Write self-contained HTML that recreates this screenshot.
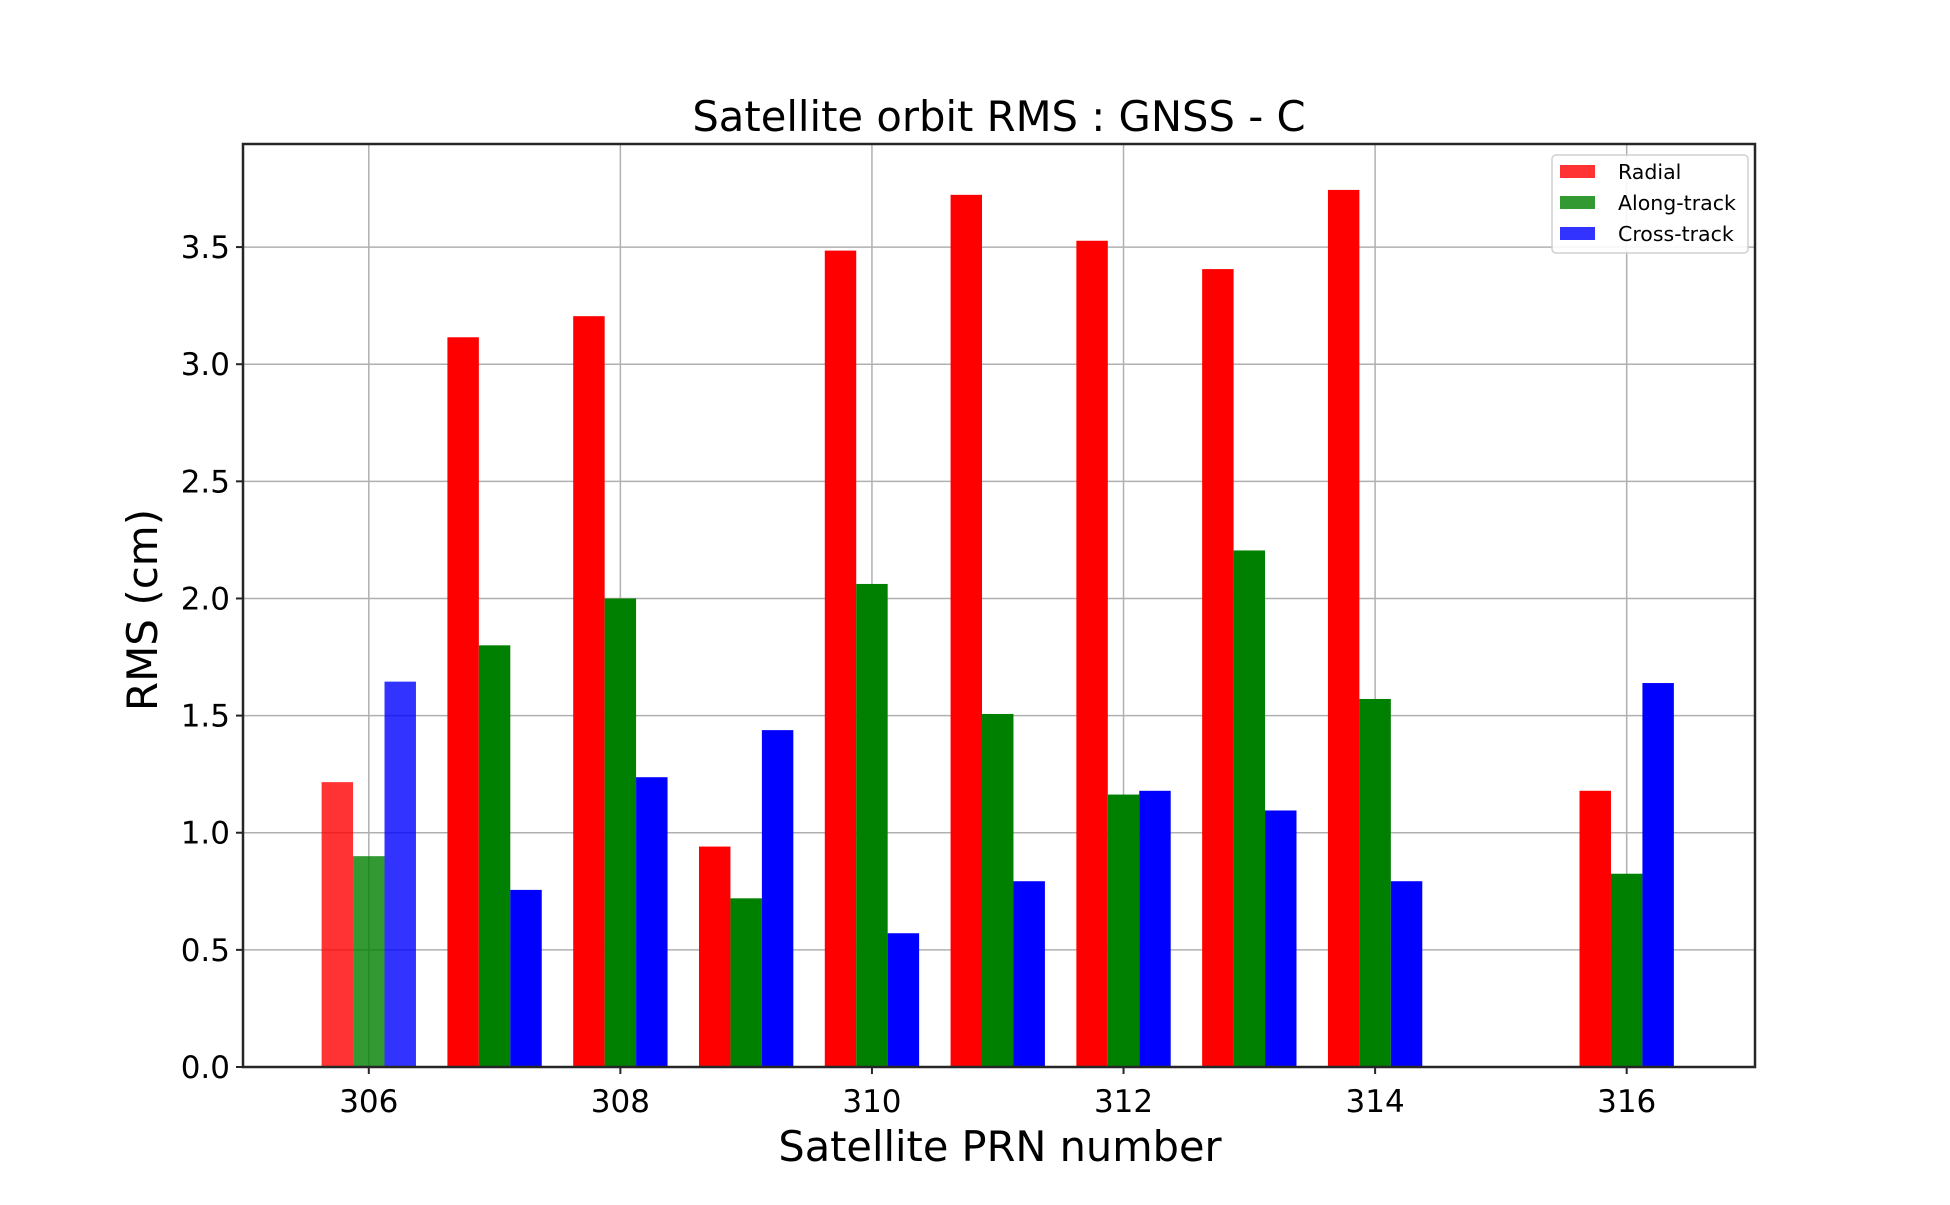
<!DOCTYPE html>
<html><head><meta charset="utf-8"><style>
body{margin:0;background:#fff}
svg text{font-family:"DejaVu Sans","Liberation Sans",sans-serif;fill:#000}
</style></head><body>
<svg id="chart" width="1950" height="1200" xmlns="http://www.w3.org/2000/svg"></svg>
<script>
const categories=[306,307,308,309,310,311,312,313,314,316];
const radial=[1.216,3.115,3.205,0.941,3.485,3.723,3.527,3.406,3.744,1.179];
const along=[0.90,1.80,2.0,0.72,2.062,1.507,1.163,2.205,1.571,0.825];
const cross=[1.645,0.756,1.237,1.438,0.571,0.793,1.179,1.095,0.793,1.639];
const yTicks=[0,0.5,1,1.5,2,2.5,3,3.5];
const xTicks=[306,308,310,312,314,316];
const L=243,R=1755,T=144,B=1067;
const xmin=305.0,xmax=317.02,ymin=0,ymax=3.94;
const xs=v=>L+(v-xmin)/(xmax-xmin)*(R-L);
const ys=v=>B-(v-ymin)/(ymax-ymin)*(B-T);
const svg=document.getElementById('chart');
const NS='http://www.w3.org/2000/svg';
function mk(tag,attrs,parent){const e=document.createElementNS(NS,tag);for(const k in attrs)e.setAttribute(k,attrs[k]);(parent||svg).appendChild(e);return e;}
xTicks.forEach(t=>{const l=mk('line',{x1:xs(t),x2:xs(t),y1:T,y2:B,stroke:'#b0b0b0','stroke-width':1.5});

});
yTicks.forEach(t=>{const l=mk('line',{x1:L,x2:R,y1:ys(t),y2:ys(t),stroke:'#b0b0b0','stroke-width':1.5});

});
const series=[{d:radial,c:'#ff0000',off:-0.25,n:'radial'},{d:along,c:'#008000',off:0,n:'along-track'},{d:cross,c:'#0000ff',off:0.25,n:'cross-track'}];
const w=0.25;
series.forEach(s=>{categories.forEach((c,i)=>{
const x0=xs(c+s.off-w/2),x1=xs(c+s.off+w/2);
const r=mk('rect',{x:x0,y:ys(s.d[i]),width:x1-x0,height:ys(0)-ys(s.d[i]),fill:s.c,opacity:i===0?0.8:1});


});});
const fr=mk('rect',{x:L,y:T,width:R-L,height:B-T,fill:'none',stroke:'#262626','stroke-width':2.5});


yTicks.forEach(t=>{mk('line',{x1:L-7,x2:L,y1:ys(t),y2:ys(t),stroke:'#262626','stroke-width':2});
const tx=mk('text',{x:L-13,y:ys(t)+11,'text-anchor':'end','font-size':31});tx.textContent=t.toFixed(1);

});
xTicks.forEach(t=>{mk('line',{x1:xs(t),x2:xs(t),y1:B,y2:B+7,stroke:'#262626','stroke-width':2});
const tx=mk('text',{x:xs(t),y:B+45,'text-anchor':'middle','font-size':31});tx.textContent=t;

});
</script>
<svg width="1950" height="1200" style="position:absolute;left:0;top:0" xmlns="http://www.w3.org/2000/svg">
<text x="999" y="131" text-anchor="middle" font-size="41.7">Satellite orbit RMS : GNSS - C</text>
<text x="1000" y="1161" text-anchor="middle" font-size="41.5">Satellite PRN number</text>
<text x="0" y="0" transform="translate(157,610) rotate(-90)" text-anchor="middle" font-size="42">RMS (cm)</text>
<g>
<rect x="1552" y="155" width="196" height="98" rx="4" fill="#fff" stroke="#ccc" stroke-width="1.5" opacity="0.9"/>
<rect x="1560" y="165" width="35" height="13" fill="#ff0000" opacity="0.8"/>
<text x="1618" y="179" font-size="20.5">Radial</text>
<rect x="1560" y="196" width="35" height="13" fill="#008000" opacity="0.8"/>
<text x="1618" y="210" font-size="20.5">Along-track</text>
<rect x="1560" y="227" width="35" height="13" fill="#0000ff" opacity="0.8"/>
<text x="1618" y="241" font-size="20.5">Cross-track</text>
</g>
</svg>
</body></html>
